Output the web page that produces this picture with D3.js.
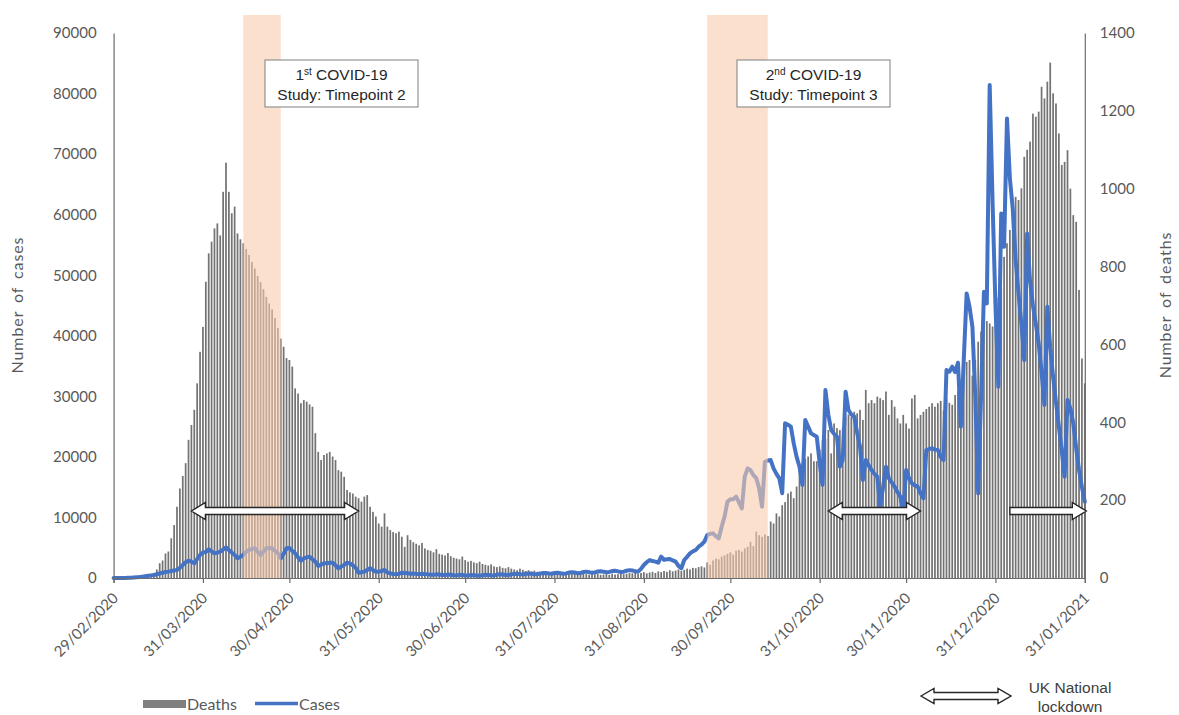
<!DOCTYPE html>
<html>
<head>
<meta charset="utf-8">
<script src="https://cdn.jsdelivr.net/npm/d3@7"></script>
<style>
  body { margin: 0; background: #ffffff; }
  svg { display: block; }
</style>
</head>
<body>
<svg id="chart" width="1179" height="715"></svg>
<script>
// ---- Daily series, 29/02/2020 to 31/01/2021 ----
const firstDay = "2020-02-29";
const lastDay = "2021-01-31";

// Daily deaths (right axis), one array per month
const deathsFeb = [0];
const deathsMar = [0,0,0,0,1,1,1,2,2,4, 5,8,10,12,22,38,45,63,68,102, 136,183,230,262,295,355,393,432,500,581, 645];
const deathsApr = [761,834,864,898,911,880,992,1067,992,937, 954,885,870,860,845,830,812,795,776,760, 742,722,705,690,668,642,615,594,565,560];
const deathsMay = [543,487,474,449,457,453,446,440,372,324, 303,316,320,324,312,303,277,273,260,226, 220,217,209,205,196,209,213,183,170,158, 140];
const deathsJun = [132,166,132,123,118,115,119,106,80,110, 98,92,88,84,90,76,72,70,66,74, 62,60,58,64,56,52,50,48,55,46];
const deathsJul = [42,44,40,38,42,36,34,32,35,30, 28,30,26,25,28,24,22,20,24,21, 18,20,17,19,16,15,18,15,14,16, 13];
const deathsAug = [12,14,12,11,13,10,12,10,9,11, 10,8,10,9,11,8,9,10,8,11, 9,10,12,10,11,13,12,14,11,13, 15];
const deathsSep = [12,14,16,13,17,15,18,16,20,17, 19,22,18,21,24,22,26,25,28,30, 27,40,34,45,50,48,55,58,62,66];
const deathsOct = [60,70,72,68,76,80,93,82,119,110, 106,112,108,145,140,166,158,187,195,217, 222,205,235,277,295,307,312,320,300,300, 330];
const deathsNov = [354,358,380,320,397,385,380,385,414,420, 414,427,423,432,406,483,449,457,449,466, 462,457,479,419,457,440,410,397,419,397];
const deathsDec = [384,461,470,410,419,427,434,440,449,440, 449,455,430,460,450,445,470,480,500,547, 555,560,520,560,607,633,667,660,654,646, 705];
const deathsJan = [720,744,825,860,894,975,979,971,1001,1082, 1100,1121,1193,1185,1198,1262,1232,1275,1324,1245, 1219,1142,1061,1069,1099,1000,932,915,740,564, 500];

// Daily cases (left axis), one array per month
const casesFeb = [0];
const casesMar = [0,0,10,20,40,60,80,110,150,220, 290,360,430,500,620,750,880,980,1050,1150, 1250,1320,1700,2150,2600,2860,2700,2420,3100,3800, 4200];
const casesApr = [4300,4730,4400,4070,4200,4350,4700,5060,4620,4200, 3800,3250,3500,3800,4300,4620,4800,4900,4300,3800, 4400,4900,4950,4900,4500,4070,3250,4000,4900,4950];
const casesMay = [4500,4070,3400,2860,3250,3400,3520,3100,2700,1980, 2200,2420,2450,2500,2530,2100,1600,1900,2150,2530, 2400,2100,1700,880,950,1050,1300,1600,1300,1050, 1050];
const casesJun = [1150,1320,900,770,650,600,700,880,820,770, 700,750,680,620,700,650,600,550,520,600, 580,500,480,560,520,450,430,520,480,420];
const casesJul = [400,480,460,420,380,460,520,500,450,420, 560,600,580,500,480,620,680,700,640,560, 700,760,720,620,600,760,800,820,760,680, 840];
const casesAug = [880,800,700,760,900,950,900,780,820,1000, 1050,950,850,900,1080,1100,1050,950,1000,1150, 1200,1100,1000,1050,1200,1300,1250,1100,1050,1500, 2150];
const casesSep = [2600,2970,2800,2700,2530,3520,3000,3100,3140,2900, 2700,2000,1600,2970,3500,4070,4400,4620,5170,5500, 6000,7100,7300,7370,6900,6550,8500,10130,12600,13000];
const casesOct = [13000,13430,12500,11500,16730,18100,17800,17000,16500,14800, 11780,19200,19400,19480,18100,17200,16450,14000,25540,25300, 24990,22230,20000,18380,15350,26090,25000,23880,23600,23340, 19000];
const casesNov = [15350,31040,27000,24440,23800,23340,18380,19480,30770,27740, 27000,26640,24000,21680,16180,19480,18600,17830,17200,16730, 11780,15000,18380,16450,15800,15080,14200,13430,10680,17830];
const casesDec = [16500,15630,15300,15080,14000,13150,21130,21300,21410,21200, 21130,20000,19480,34340,34070,34890,34000,35550,25000,36000, 47000,44800,41500,30000,13980,30000,47280,45350,81400,62000, 45000];
const casesJan = [31600,60200,54700,75900,66000,61000,52500,47000,42000,36000, 56900,49000,45000,42000,38700,34000,28560,44800,38000,33240, 29000,25000,21000,16730,29400,28000,25540,21500,17830,15000, 12600];

// Axis ticks and labels
const dateTickLabels = ["29/02/2020","31/03/2020","30/04/2020","31/05/2020","30/06/2020","31/07/2020",
  "31/08/2020","30/09/2020","31/10/2020","30/11/2020","31/12/2020","31/01/2021"];
const casesTicks = [0,10000,20000,30000,40000,50000,60000,70000,80000,90000];
const deathsTicks = [0,200,400,600,800,1000,1200,1400];

// Study timepoints (shaded windows) and UK national lockdowns
const studyStarts = ["2020-04-14", "2020-09-22"];
const studyEnds = ["2020-04-27", "2020-10-13"];
const studyOrdinals = ["1", "2"];
const studySuffixes = ["st", "nd"];
const studyTimepoints = ["Timepoint 2", "Timepoint 3"];
const lockdownStarts = ["2020-03-27", "2020-11-03", "2021-01-05"];
const lockdownEnds = ["2020-05-24", "2020-12-05", "2021-01-31"];

// ---- Build series ----
const parseISO = d3.utcParse("%Y-%m-%d");
const parseTick = d3.utcParse("%d/%m/%Y");
const days = d3.utcDay.range(parseISO(firstDay), d3.utcDay.offset(parseISO(lastDay), 1));
const deaths = [].concat(deathsFeb, deathsMar, deathsApr, deathsMay, deathsJun, deathsJul,
  deathsAug, deathsSep, deathsOct, deathsNov, deathsDec, deathsJan);
const cases = [].concat(casesFeb, casesMar, casesApr, casesMay, casesJun, casesJul,
  casesAug, casesSep, casesOct, casesNov, casesDec, casesJan);
const series = days.map((d, i) => ({ date: d, deaths: deaths[i], cases: cases[i] }));

// ---- Layout ----
const svg = d3.select("#chart");
const plot = { left: 113.6, right: 1084.8, top: 33, bottom: 578 };
const excelFont = "Lato, 'Open Sans', sans-serif";
const arialFont = "'Liberation Sans', Arial, sans-serif";
const textGrey = "#595959";
const axisGrey = "#6b6b6b";

const x = d3.scaleUtc()
  .domain([parseISO(firstDay), parseISO(lastDay)])
  .range([plot.left, plot.right]);
const yCases = d3.scaleLinear().domain([0, 90000]).range([plot.bottom, plot.top]);
const yDeaths = d3.scaleLinear().domain([0, 1400]).range([plot.bottom, plot.top]);

const step = x(days[1]) - x(days[0]);
const barW = step * 0.6;

// Deaths bars
svg.append("g")
  .selectAll("rect")
  .data(series)
  .join("rect")
  .attr("x", d => x(d.date) - barW / 2)
  .attr("y", d => yDeaths(d.deaths))
  .attr("width", barW)
  .attr("height", d => yDeaths(0) - yDeaths(d.deaths))
  .attr("fill", "#737373");

// Cases line
svg.append("path")
  .datum(series)
  .attr("fill", "none")
  .attr("stroke", "#4472c4")
  .attr("stroke-width", 4)
  .attr("stroke-linejoin", "round")
  .attr("stroke-linecap", "round")
  .attr("d", d3.line().x(d => x(d.date)).y(d => yCases(d.cases)));

// Axes
const gLeft = svg.append("g").attr("transform", `translate(${plot.left},0)`)
  .call(d3.axisLeft(yCases).tickValues(casesTicks).tickSize(0).tickPadding(17).tickFormat(d3.format("d")));
const gRight = svg.append("g").attr("transform", `translate(${plot.right},0)`)
  .call(d3.axisRight(yDeaths).tickValues(deathsTicks).tickSize(0).tickPadding(15).tickFormat(d3.format("d")));
[gLeft, gRight].forEach(g => {
  g.select(".domain").attr("stroke", axisGrey).attr("stroke-width", 1.2);
  g.selectAll("text").attr("font-family", excelFont).attr("font-size", 15).attr("fill", textGrey);
});

const gBottom = svg.append("g").attr("transform", `translate(0,${plot.bottom})`)
  .call(d3.axisBottom(x).tickValues(dateTickLabels.map(parseTick)).tickSize(5).tickFormat(d3.utcFormat("%d/%m/%Y")));
gBottom.select(".domain").attr("stroke", axisGrey).attr("stroke-width", 1.2);
gBottom.selectAll(".tick line").attr("stroke", axisGrey).attr("stroke-width", 1.2);
gBottom.selectAll(".tick text")
  .attr("font-family", excelFont).attr("font-size", 15).attr("fill", textGrey)
  .attr("text-anchor", "end")
  .attr("dy", 0).attr("y", 0)
  .attr("transform", "translate(5,21) rotate(-45)");

// Axis titles
svg.append("text")
  .attr("transform", "translate(23,305) rotate(-90)")
  .attr("text-anchor", "middle").attr("font-family", excelFont).attr("font-size", 16)
  .attr("letter-spacing", 0.9).attr("word-spacing", 3)
  .attr("fill", textGrey).text("Number of cases");
svg.append("text")
  .attr("transform", "translate(1171,305) rotate(-90)")
  .attr("text-anchor", "middle").attr("font-family", excelFont).attr("font-size", 16)
  .attr("letter-spacing", 0.9).attr("word-spacing", 3)
  .attr("fill", textGrey).text("Number of deaths");

// Study windows, shaded over the data
svg.append("g")
  .selectAll("rect")
  .data(studyStarts.map((s, i) => ({ start: parseISO(s), end: parseISO(studyEnds[i]) })))
  .join("rect")
  .attr("x", d => x(d.start))
  .attr("y", 15)
  .attr("width", d => x(d.end) - x(d.start))
  .attr("height", plot.bottom - 15)
  .attr("fill", "#f8cbad")
  .attr("opacity", 0.6);

// Block arrow path: double-headed, or right-pointing only
function arrowPath(x1, x2, cy, hs, hh, hl, leftHead) {
  const p = [];
  if (leftHead) {
    p.push([x1, cy], [x1 + hl, cy - hh], [x1 + hl, cy - hs]);
  } else {
    p.push([x1, cy - hs]);
  }
  p.push([x2 - hl, cy - hs], [x2 - hl, cy - hh], [x2, cy], [x2 - hl, cy + hh], [x2 - hl, cy + hs]);
  if (leftHead) {
    p.push([x1 + hl, cy + hs], [x1 + hl, cy + hh]);
  } else {
    p.push([x1, cy + hs]);
  }
  return "M" + p.map(q => q.join(",")).join("L") + "Z";
}

// Lockdown arrows
svg.append("g")
  .selectAll("path")
  .data(lockdownStarts.map((s, i) => ({ start: parseISO(s), end: parseISO(lockdownEnds[i]), open: i === lockdownStarts.length - 1 })))
  .join("path")
  .attr("d", d => arrowPath(x(d.start), d.open ? x(d.end) + 1.5 : x(d.end), 511, 3.5, 8.5, 14, !d.open))
  .attr("fill", "#ffffff")
  .attr("stroke", "#262626")
  .attr("stroke-width", 1.4);

// Study labels
const boxLefts = [265, 737];
const boxW = 153, boxTop = 60, boxH = 47;
studyStarts.forEach((s, i) => {
  const g = svg.append("g");
  g.append("rect")
    .attr("x", boxLefts[i]).attr("y", boxTop).attr("width", boxW).attr("height", boxH)
    .attr("fill", "#ffffff").attr("stroke", "#7f7f7f").attr("stroke-width", 1);
  const cx = boxLefts[i] + boxW / 2;
  const t1 = g.append("text").attr("x", cx).attr("y", 80)
    .attr("text-anchor", "middle").attr("font-family", arialFont).attr("font-size", 15.5).attr("fill", "#262626");
  t1.append("tspan").text(studyOrdinals[i]);
  t1.append("tspan").attr("font-size", 10).attr("dy", -5).text(studySuffixes[i]);
  t1.append("tspan").attr("dy", 5).text(" COVID-19");
  g.append("text").attr("x", cx).attr("y", 100)
    .attr("text-anchor", "middle").attr("font-family", arialFont).attr("font-size", 15.5).attr("fill", "#262626")
    .text("Study: " + studyTimepoints[i]);
});

// Legend
const legend = svg.append("g");
legend.append("rect").attr("x", 143).attr("y", 700).attr("width", 43).attr("height", 8).attr("fill", "#7f7f7f");
legend.append("text").attr("x", 187).attr("y", 709.5).attr("font-family", excelFont).attr("font-size", 16)
  .attr("fill", textGrey).text("Deaths");
legend.append("line").attr("x1", 255).attr("x2", 298).attr("y1", 703.5).attr("y2", 703.5)
  .attr("stroke", "#4472c4").attr("stroke-width", 3.5);
legend.append("text").attr("x", 299).attr("y", 709.5).attr("font-family", excelFont).attr("font-size", 16)
  .attr("fill", textGrey).text("Cases");

legend.append("path")
  .attr("d", arrowPath(921, 1011, 696, 3.5, 7.5, 13, true))
  .attr("fill", "#ffffff").attr("stroke", "#262626").attr("stroke-width", 1.4);
legend.append("text").attr("x", 1070).attr("y", 693).attr("text-anchor", "middle")
  .attr("font-family", arialFont).attr("font-size", 15.5).attr("fill", "#404040").text("UK National");
legend.append("text").attr("x", 1070).attr("y", 712).attr("text-anchor", "middle")
  .attr("font-family", arialFont).attr("font-size", 15.5).attr("fill", "#404040").text("lockdown");
</script>
</body>
</html>
